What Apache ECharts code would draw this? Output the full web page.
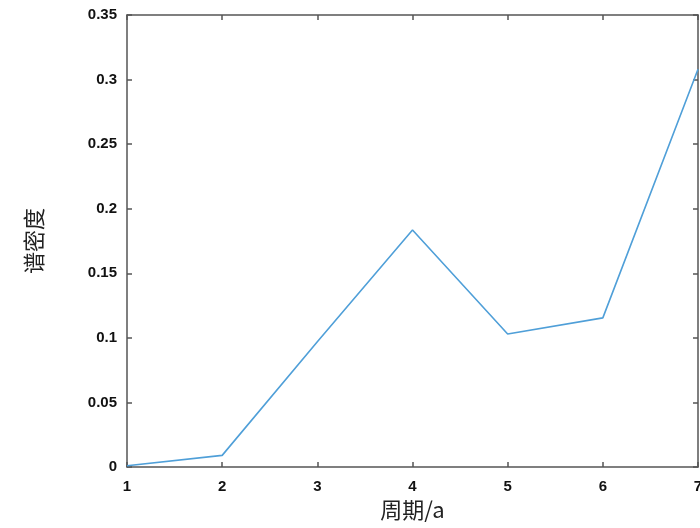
<!DOCTYPE html>
<html>
<head>
<meta charset="utf-8">
<script src="https://cdn.jsdelivr.net/npm/echarts@6/dist/echarts.min.js"></script>
<style>
  html, body { margin: 0; padding: 0; background: #fff; }
  #chart { width: 700px; height: 528px; }
</style>
</head>
<body>
<div id="chart"></div>
<script>
// Spectral density by period
const periods = [1, 2, 3, 4, 5, 6, 7];
const density = [0.001, 0.009, 0.097, 0.1835, 0.103, 0.1155, 0.308];
const xName = '周期/a';
const yName = '谱密度';

const axisColor = '#555';
const tickFont = { fontFamily: 'Liberation Sans', fontWeight: 'bold', fontSize: 15, color: '#111' };

const chart = echarts.init(document.getElementById('chart'), null, { renderer: 'canvas' });
chart.setOption({
  animation: false,
  grid: { left: 127, right: 2, top: 15, bottom: 61, containLabel: false, outerBoundsMode: 'none' },
  xAxis: [
    {
      type: 'value', min: 1, max: 7, interval: 1,
      name: xName, nameLocation: 'middle', nameGap: 32,
      nameTextStyle: { fontFamily: 'Noto Sans CJK SC', fontSize: 22, color: '#222' },
      axisLine: { show: true, onZero: false, lineStyle: { color: axisColor, width: 1.5 } },
      axisTick: { show: true, inside: true, length: 5, lineStyle: { color: axisColor, width: 1.5 } },
      axisLabel: Object.assign({ margin: 12, hideOverlap: false }, tickFont),
      splitLine: { show: false }
    },
    {
      type: 'value', min: 1, max: 7, interval: 1, position: 'top',
      axisLine: { show: true, onZero: false, lineStyle: { color: axisColor, width: 1.5 } },
      axisTick: { show: true, inside: true, length: 5, lineStyle: { color: axisColor, width: 1.5 } },
      axisLabel: { show: false },
      splitLine: { show: false }
    }
  ],
  yAxis: [
    {
      type: 'value', min: 0, max: 0.35, interval: 0.05,
      name: yName, nameLocation: 'middle', nameGap: 82, nameRotate: 90,
      nameTextStyle: { fontFamily: 'Noto Sans CJK SC', fontSize: 22, color: '#222' },
      axisLine: { show: true, onZero: false, lineStyle: { color: axisColor, width: 1.5 } },
      axisTick: { show: true, inside: true, length: 5, lineStyle: { color: axisColor, width: 1.5 } },
      axisLabel: Object.assign({ margin: 10 }, tickFont),
      splitLine: { show: false }
    },
    {
      type: 'value', min: 0, max: 0.35, interval: 0.05, position: 'right',
      axisLine: { show: true, onZero: false, lineStyle: { color: axisColor, width: 1.5 } },
      axisTick: { show: true, inside: true, length: 5, lineStyle: { color: axisColor, width: 1.5 } },
      axisLabel: { show: false },
      splitLine: { show: false }
    }
  ],
  series: [
    {
      type: 'line',
      data: periods.map((p, i) => [p, density[i]]),
      showSymbol: false,
      lineStyle: { color: '#4f9fd8', width: 1.6 },
      clip: false
    }
  ]
});
</script>
</body>
</html>
